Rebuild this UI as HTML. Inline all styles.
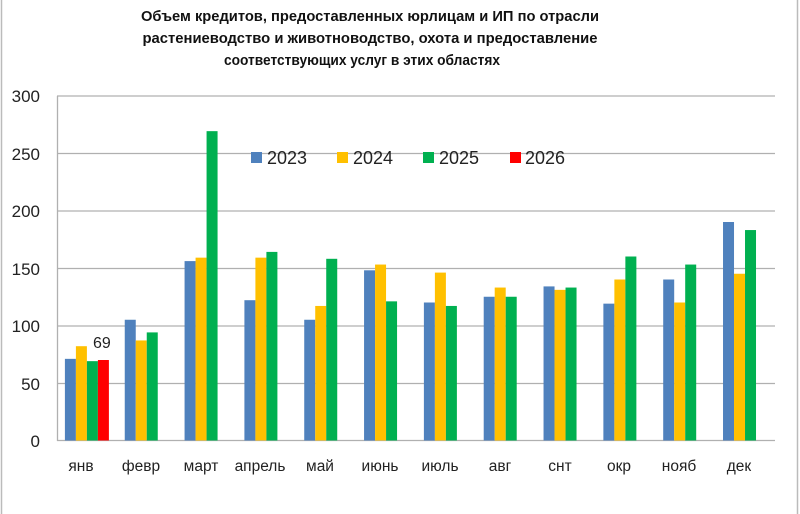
<!DOCTYPE html>
<html><head><meta charset="utf-8"><style>body{margin:0;background:#fff}svg{display:block}</style></head><body>
<svg width="800" height="514" xmlns="http://www.w3.org/2000/svg" font-family="Liberation Sans, sans-serif">
<rect x="1.5" y="-2" width="796" height="520" fill="#fff" stroke="#bbb" stroke-width="1.5"/>
<g font-weight="bold" font-size="14.5" text-anchor="middle" fill="#111">
<text x="370" y="21" textLength="458" lengthAdjust="spacingAndGlyphs">Объем кредитов, предоставленных юрлицам и ИП по отрасли</text>
<text x="370" y="43" textLength="455" lengthAdjust="spacingAndGlyphs">растениеводство и животноводство,  охота и предоставление</text>
<text x="362" y="65" textLength="276" lengthAdjust="spacingAndGlyphs">соответствующих услуг в этих областях</text>
</g>
<g stroke="#b0b0b0" stroke-width="1.3">
<line x1="57" y1="96" x2="775" y2="96"/><line x1="57" y1="153.5" x2="775" y2="153.5"/><line x1="57" y1="211" x2="775" y2="211"/><line x1="57" y1="268.5" x2="775" y2="268.5"/><line x1="57" y1="326" x2="775" y2="326"/><line x1="57" y1="383.5" x2="775" y2="383.5"/><line x1="57" y1="440.5" x2="775" y2="440.5"/><line x1="57.5" y1="96" x2="57.5" y2="441"/>
</g>
<g font-size="17" fill="#222" text-anchor="end">
<text x="40" y="102">300</text><text x="40" y="160">250</text><text x="40" y="217">200</text><text x="40" y="275">150</text><text x="40" y="332">100</text><text x="40" y="390">50</text><text x="40" y="447">0</text>
</g>
<g fill="#4f81bd">
<rect x="64.9" y="358.85" width="11" height="81.65"/>
<rect x="124.75" y="319.75" width="11" height="120.75"/>
<rect x="184.57" y="261.1" width="11" height="179.4"/>
<rect x="244.4" y="300.2" width="11" height="140.3"/>
<rect x="304.23" y="319.75" width="11" height="120.75"/>
<rect x="364.06" y="270.3" width="11" height="170.2"/>
<rect x="423.89" y="302.5" width="11" height="138"/>
<rect x="483.71" y="296.75" width="11" height="143.75"/>
<rect x="543.54" y="286.4" width="11" height="154.1"/>
<rect x="603.37" y="303.65" width="11" height="136.85"/>
<rect x="663.2" y="279.5" width="11" height="161"/>
<rect x="723.02" y="222" width="11" height="218.5"/>
</g>
<g fill="#ffc000">
<rect x="75.9" y="346.2" width="11" height="94.3"/>
<rect x="135.75" y="340.45" width="11" height="100.05"/>
<rect x="195.57" y="257.65" width="11" height="182.85"/>
<rect x="255.4" y="257.65" width="11" height="182.85"/>
<rect x="315.23" y="305.95" width="11" height="134.55"/>
<rect x="375.06" y="264.55" width="11" height="175.95"/>
<rect x="434.89" y="272.6" width="11" height="167.9"/>
<rect x="494.71" y="287.55" width="11" height="152.95"/>
<rect x="554.54" y="289.85" width="11" height="150.65"/>
<rect x="614.37" y="279.5" width="11" height="161"/>
<rect x="674.2" y="302.5" width="11" height="138"/>
<rect x="734.02" y="273.75" width="11" height="166.75"/>
</g>
<g fill="#00b050">
<rect x="86.9" y="361.15" width="11" height="79.35"/>
<rect x="146.75" y="332.4" width="11" height="108.1"/>
<rect x="206.57" y="131.15" width="11" height="309.35"/>
<rect x="266.4" y="251.9" width="11" height="188.6"/>
<rect x="326.23" y="258.8" width="11" height="181.7"/>
<rect x="386.06" y="301.35" width="11" height="139.15"/>
<rect x="445.89" y="305.95" width="11" height="134.55"/>
<rect x="505.71" y="296.75" width="11" height="143.75"/>
<rect x="565.54" y="287.55" width="11" height="152.95"/>
<rect x="625.37" y="256.5" width="11" height="184"/>
<rect x="685.2" y="264.55" width="11" height="175.95"/>
<rect x="745.02" y="230.05" width="11" height="210.45"/>
</g>
<rect x="97.9" y="360" width="11" height="80.5" fill="#ff0000"/>
<text x="93" y="348" font-size="16" fill="#222">69</text>
<g font-size="15.5" fill="#222" text-anchor="middle">
<text x="81" y="471">янв</text><text x="141" y="471">февр</text><text x="201" y="471">март</text><text x="260" y="471">апрель</text><text x="320" y="471">май</text><text x="380" y="471">июнь</text><text x="440" y="471">июль</text><text x="500" y="471">авг</text><text x="560" y="471">снт</text><text x="619" y="471">окр</text><text x="679" y="471">нояб</text><text x="739" y="471">дек</text>
</g>
<g font-size="18" fill="#222">
<rect x="251" y="152" width="11" height="11" fill="#4f81bd"/><text x="267" y="164">2023</text>
<rect x="337" y="152" width="11" height="11" fill="#ffc000"/><text x="353" y="164">2024</text>
<rect x="423" y="152" width="11" height="11" fill="#00b050"/><text x="439" y="164">2025</text>
<rect x="510" y="152" width="11" height="11" fill="#ff0000"/><text x="525" y="164">2026</text>
</g>
</svg>
</body></html>
